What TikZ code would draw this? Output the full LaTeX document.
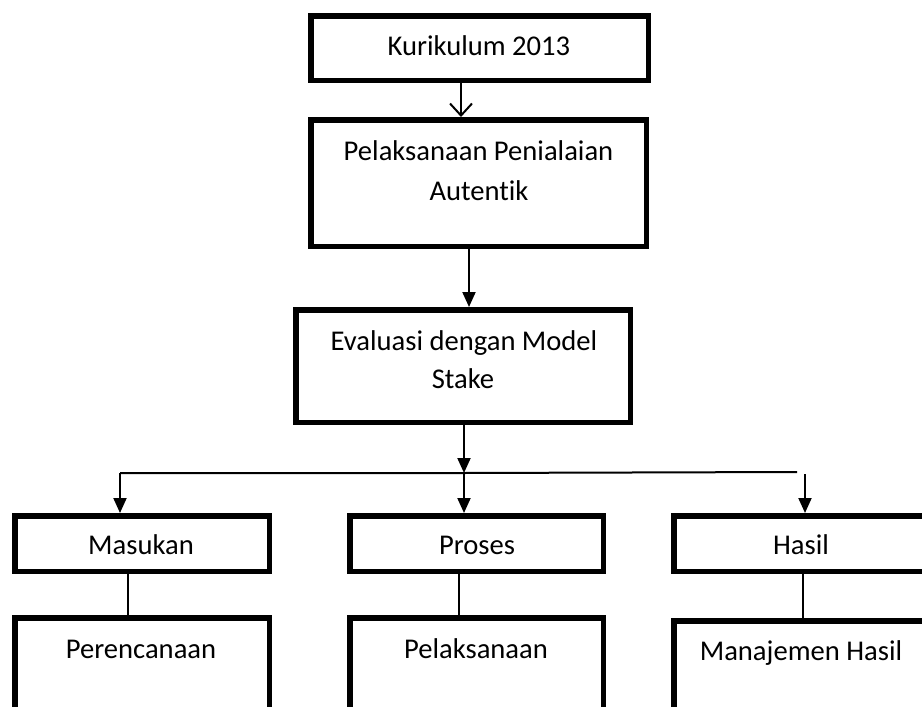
\documentclass[tikz,border=0pt]{standalone}
\usepackage{fontspec}
\setmainfont[Ligatures=NoCommon]{Carlito}
\usetikzlibrary{arrows.meta}
\begin{document}
\begin{tikzpicture}[x=1pt,y=-1pt,
  box/.style={draw=black,line width=5.5pt,rectangle,inner sep=0pt},
  txt/.style={anchor=base,inner sep=0pt,font=\fontsize{28.6}{34}\selectfont},
  conn/.style={line width=2pt},
  thin/.style={line width=1.5pt},
  fillarrow/.style={conn,-{Triangle[length=15pt,width=13pt]}},
  openarrow/.style={conn,-{Straight Barb[length=12pt,width=22pt,line width=2pt]}}]
\useasboundingbox (0,0) rectangle (922,707);
\clip (0,0) rectangle (922,707);
\fill[white] (0,0) rectangle (922,707);
% boxes
\node[box,minimum width=337.5pt,minimum height=64.5pt] (k) at (479.5,48) {};
\node[box,minimum width=335.5pt,minimum height=126.5pt] (p) at (478.5,183) {};
\node[box,minimum width=334.5pt,minimum height=112.5pt] (e) at (463,366) {};
\node[box,minimum width=254.5pt,minimum height=55.5pt] (m) at (142,543.5) {};
\node[box,minimum width=253.5pt,minimum height=55.5pt] (pr) at (476.5,543.5) {};
\node[box,minimum width=254.5pt,minimum height=55.5pt] (h) at (801,543.5) {};
\node[box,minimum width=254.5pt,minimum height=120pt] (pe) at (142,678) {};
\node[box,minimum width=253.5pt,minimum height=120pt] (pl) at (476.5,678) {};
\node[box,minimum width=254.5pt,minimum height=120pt] (mh) at (801,681) {};
% texts
\node[txt] (tk) at (479,55) {Kurikulum 2013};
\node[txt] (tp1) at (478.5,160) {Pelaksanaan Penialaian};
\node[txt] (tp2) at (479,200) {Autentik};
\node[txt] (te1) at (464,350) {Evaluasi dengan Model};
\node[txt] (te2) at (463,388) {Stake};
\node[txt] (tm) at (141,554) {Masukan};
\node[txt] (tpr) at (477,554) {Proses};
\node[txt] (th) at (801,554) {Hasil};
\node[txt] (tpe) at (141,658) {Perencanaan};
\node[txt] (tpl) at (476,658) {Pelaksanaan};
\node[txt] (tmh) at (801,660) {Manajemen Hasil};
% connectors
\draw[openarrow] (461,83) -- (461,117);
\draw[fillarrow] (469,249) -- (469,307);
\coordinate (j) at (464,473);
\coordinate (jl) at (120,473);
\coordinate (jr) at (797,472);
\coordinate (jr2) at (805,474);
\draw[fillarrow] (464,425) -- (j);
\draw[conn] (jl) -- (j) -- (jr);
\draw[fillarrow] (jl) -- (120,513);
\draw[fillarrow] (j) -- (464,513);
\draw[fillarrow] (jr2) -- (805,513);
\draw[thin] (128,574) -- (128,616);
\draw[thin] (459,574) -- (459,616);
\draw[thin] (803,574) -- (803,619);
\end{tikzpicture}
\end{document}
